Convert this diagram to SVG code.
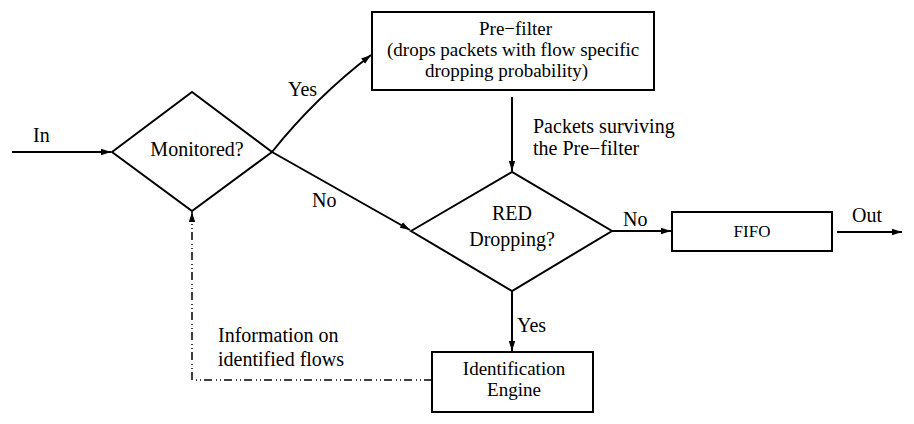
<svg xmlns="http://www.w3.org/2000/svg" width="914" height="424" viewBox="0 0 914 424" font-family="'Liberation Serif', 'Times New Roman', Times, 'DejaVu Serif', serif" font-size="20">
<style>
.shape{fill:#fff;stroke:#000;stroke-width:2}
.line{fill:none;stroke:#000;stroke-width:2}
.dash{fill:none;stroke:#000;stroke-width:1.5;stroke-dasharray:8 3 1 3 1 4}
.c{text-anchor:middle}
.s{font-size:19px}
</style>
<defs>
<marker id="arr" markerUnits="userSpaceOnUse" markerWidth="12" markerHeight="8" refX="10" refY="4" orient="auto">
<path d="M0,0.8 L10,4 L0,7.2 Z" fill="#000"/>
</marker>
<clipPath id="pfclip"><rect x="373" y="13" width="280" height="77"/></clipPath>
</defs>
<rect width="914" height="424" fill="#fff"/>
<g id="connectors">
<path class="line" d="M12,152 H111" marker-end="url(#arr)"/>
<path class="line" d="M272,152 Q315,98 371,55" marker-end="url(#arr)"/>
<path class="line" d="M272,152 L410,230" marker-end="url(#arr)"/>
<path class="line" d="M512,97 V171" marker-end="url(#arr)"/>
<path class="line" d="M612,231 H671" marker-end="url(#arr)"/>
<path class="line" d="M837,232 H902" marker-end="url(#arr)"/>
<path class="line" d="M512,291 V351" marker-end="url(#arr)"/>
<path class="dash" d="M432,380 H192 V212" marker-end="url(#arr)"/>
<text x="33" y="142">In</text>
<text x="288" y="96">Yes</text>
<text x="312" y="207">No</text>
<text x="533" y="133">Packets surviving</text>
<text x="533" y="155">the Pre−filter</text>
<text x="623" y="226">No</text>
<text x="852" y="222">Out</text>
<text x="517" y="332">Yes</text>
<text x="218" y="342">Information on</text>
<text x="218" y="366">identified flows</text>
</g>
<g id="monitored">
<polygon class="shape" points="112,152 192,92 272,152 192,211"/>
<text class="c" x="197" y="156">Monitored?</text>
</g>
<g id="prefilter">
<rect class="shape" x="372" y="12" width="282" height="78"/>
<g clip-path="url(#pfclip)" class="s">
<text x="479" y="35">Pre−filter</text>
<text x="387" y="56">(drops packets with flow specific</text>
<text x="425" y="77">dropping probability)</text>
</g>
</g>
<g id="red">
<polygon class="shape" points="411,231 512,172 612,231 512,291"/>
<text class="c" x="512" y="220">RED</text>
<text class="c" x="512" y="246">Dropping?</text>
</g>
<g id="fifo">
<rect class="shape" x="672" y="212" width="160" height="39"/>
<text class="c" x="752" y="237" font-size="17">FIFO</text>
</g>
<g id="identification" class="s">
<rect class="shape" x="432" y="352" width="161" height="60"/>
<text class="c" x="514" y="375">Identification</text>
<text class="c" x="514" y="396">Engine</text>
</g>
</svg>
